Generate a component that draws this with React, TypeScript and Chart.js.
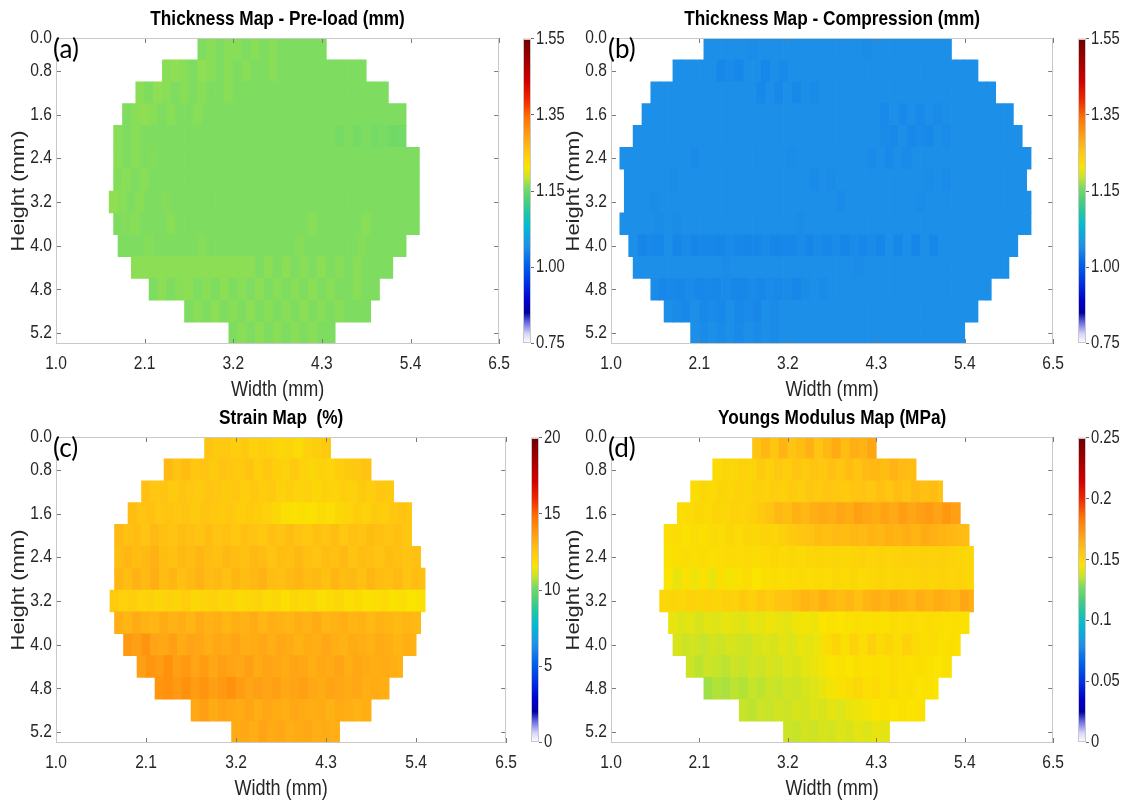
import React, { useEffect, useRef } from 'react';
import { Chart, registerables } from 'chart.js';
Chart.register(...registerables);

// ---------------- axis data ----------------
const xTickPos = [0, 20, 40, 60, 80, 100];
const xTickLabels = ['1.0', '2.1', '3.2', '4.3', '5.4', '6.5'];
const yTickPos = [0, 1.5, 3.5, 5.5, 7.5, 9.5, 11.5, 13.5];
const yTickLabels = ['0.0', '0.8', '1.6', '2.4', '3.2', '4.0', '4.8', '5.2'];
const nRows = 14;
const nCols = 100;
const cellCols = 2;

// colour bar tick values / labels
const thickCbVals = [0.75, 1.0, 1.15, 1.35, 1.55];
const thickCbLabels = ['0.75', '1.00', '1.15', '1.35', '1.55'];
const strainCbVals = [0, 5, 10, 15, 20];
const strainCbLabels = ['0', '5', '10', '15', '20'];
const modCbVals = [0, 0.05, 0.1, 0.15, 0.2, 0.25];
const modCbLabels = ['0', '0.05', '0.1', '0.15', '0.2', '0.25'];

// colormap (jet-like, fading to white at the bottom)
const cmapPos = [0, 0.03, 0.07, 0.1, 0.14, 0.2, 0.26, 0.32, 0.38, 0.43, 0.47, 0.51, 0.545, 0.58, 0.63, 0.68, 0.74, 0.8, 0.86, 0.93, 1];
const cmapRGB = [
  [255, 255, 255], [215, 215, 250], [100, 100, 225], [0, 0, 160], [0, 0, 205], [0, 50, 230],
  [0, 100, 235], [30, 145, 232], [0, 185, 215], [30, 200, 165], [75, 208, 120], [120, 220, 100],
  [200, 228, 40], [250, 228, 0], [255, 196, 18], [255, 160, 20], [255, 115, 0], [240, 40, 0],
  [210, 0, 0], [160, 0, 0], [110, 0, 0],
];

// ---------------- grid data (row extents in column index) ----------------
const preStart = [32, 24, 18, 15, 13, 13, 13, 12, 13, 14, 17, 21, 29, 39];
const preEnd = [61, 70, 75, 79, 79, 82, 82, 82, 82, 79, 76, 73, 71, 63];
const compStart = [21, 14, 9, 7, 5, 2, 3, 3, 2, 4, 5, 9, 12, 18];
const compEnd = [77, 83, 87, 91, 93, 95, 94, 95, 95, 92, 90, 86, 83, 80];
const strainStart = [33, 24, 19, 16, 13, 13, 13, 12, 13, 15, 18, 22, 30, 39];
const strainEnd = [61, 70, 75, 79, 79, 81, 82, 82, 81, 80, 77, 74, 70, 63];
const modStart = [32, 23, 18, 15, 12, 12, 12, 11, 13, 14, 17, 21, 29, 39];
const modEnd = [60, 69, 75, 79, 81, 82, 82, 82, 81, 79, 77, 74, 71, 63];

// thickness pre-load (mm)
const thickPreRows = [
  [1.16, 1.164, 1.16, 1.164, 1.164, 1.16, 1.164, 1.16, 1.164, 1.16, 1.16, 1.16, 1.16, 1.16, 1.16],
  [1.164, 1.166, 1.164, 1.16, 1.166, 1.164, 1.16, 1.164, 1.16, 1.164, 1.16, 1.16, 1.164, 1.16, 1.16, 1.16, 1.16, 1.16, 1.16, 1.16, 1.16, 1.16, 1.16],
  [1.164, 1.16, 1.166, 1.164, 1.16, 1.164, 1.16, 1.164, 1.16, 1.16, 1.164, 1.16, 1.16, 1.16, 1.16, 1.16, 1.16, 1.16, 1.16, 1.16, 1.16, 1.16, 1.16, 1.16, 1.16, 1.16, 1.16, 1.16, 1.16],
  [1.16, 1.164, 1.166, 1.164, 1.16, 1.164, 1.16, 1.16, 1.164, 1.16, 1.16, 1.16, 1.16, 1.16, 1.16, 1.16, 1.16, 1.16, 1.16, 1.16, 1.16, 1.16, 1.16, 1.16, 1.16, 1.16, 1.16, 1.16, 1.16, 1.16, 1.16, 1.16],
  [1.164, 1.16, 1.164, 1.16, 1.16, 1.16, 1.16, 1.16, 1.16, 1.16, 1.16, 1.16, 1.16, 1.16, 1.16, 1.16, 1.16, 1.16, 1.16, 1.16, 1.16, 1.16, 1.16, 1.16, 1.16, 1.156, 1.16, 1.156, 1.16, 1.156, 1.158, 1.153, 1.154],
  [1.164, 1.16, 1.164, 1.16, 1.162, 1.16, 1.16, 1.16, 1.16, 1.16, 1.16, 1.16, 1.16, 1.16, 1.16, 1.16, 1.16, 1.16, 1.16, 1.16, 1.16, 1.16, 1.16, 1.16, 1.16, 1.16, 1.16, 1.16, 1.16, 1.16, 1.16, 1.16, 1.16, 1.16, 1.16],
  [1.162, 1.164, 1.16, 1.164, 1.16, 1.16, 1.16, 1.16, 1.16, 1.16, 1.16, 1.16, 1.16, 1.16, 1.16, 1.16, 1.16, 1.16, 1.16, 1.16, 1.16, 1.16, 1.16, 1.16, 1.16, 1.16, 1.16, 1.16, 1.16, 1.16, 1.16, 1.16, 1.16, 1.16, 1.16],
  [1.166, 1.164, 1.16, 1.164, 1.16, 1.16, 1.162, 1.16, 1.16, 1.16, 1.16, 1.16, 1.16, 1.16, 1.16, 1.16, 1.16, 1.16, 1.16, 1.16, 1.16, 1.16, 1.16, 1.16, 1.16, 1.16, 1.16, 1.16, 1.16, 1.16, 1.16, 1.16, 1.16, 1.16, 1.16],
  [1.16, 1.162, 1.164, 1.16, 1.16, 1.16, 1.164, 1.16, 1.16, 1.16, 1.16, 1.16, 1.16, 1.16, 1.16, 1.16, 1.16, 1.16, 1.16, 1.16, 1.16, 1.16, 1.164, 1.16, 1.16, 1.16, 1.16, 1.16, 1.164, 1.16, 1.16, 1.16, 1.16, 1.16, 1.16],
  [1.16, 1.16, 1.16, 1.163, 1.16, 1.16, 1.16, 1.16, 1.16, 1.163, 1.16, 1.16, 1.16, 1.16, 1.16, 1.16, 1.16, 1.16, 1.16, 1.16, 1.163, 1.16, 1.16, 1.16, 1.16, 1.16, 1.16, 1.163, 1.16, 1.16, 1.16, 1.16, 1.16],
  [1.165, 1.165, 1.165, 1.165, 1.165, 1.165, 1.165, 1.165, 1.165, 1.165, 1.165, 1.165, 1.165, 1.165, 1.16, 1.165, 1.16, 1.165, 1.16, 1.164, 1.16, 1.165, 1.16, 1.164, 1.16, 1.164, 1.16, 1.16, 1.16, 1.16],
  [1.16, 1.165, 1.16, 1.164, 1.165, 1.16, 1.164, 1.16, 1.165, 1.16, 1.164, 1.16, 1.165, 1.16, 1.164, 1.16, 1.164, 1.16, 1.165, 1.16, 1.164, 1.16, 1.16, 1.164, 1.16, 1.16],
  [1.16, 1.164, 1.16, 1.165, 1.16, 1.164, 1.16, 1.165, 1.16, 1.164, 1.16, 1.164, 1.16, 1.165, 1.16, 1.164, 1.16, 1.164, 1.16, 1.16, 1.16],
  [1.16, 1.164, 1.16, 1.165, 1.16, 1.164, 1.16, 1.164, 1.16, 1.164, 1.16, 1.16],
];

// thickness under compression (mm)
const thickCompRows = [
  [1.04, 1.04, 1.04, 1.04, 1.04, 1.038, 1.04, 1.04, 1.04, 1.04, 1.04, 1.04, 1.04, 1.04, 1.04, 1.04, 1.04, 1.04, 1.038, 1.04, 1.04, 1.04, 1.04, 1.04, 1.04, 1.04, 1.04, 1.04],
  [1.04, 1.04, 1.04, 1.04, 1.04, 1.034, 1.037, 1.034, 1.04, 1.04, 1.034, 1.04, 1.036, 1.04, 1.04, 1.04, 1.04, 1.04, 1.04, 1.04, 1.04, 1.04, 1.04, 1.04, 1.04, 1.04, 1.04, 1.04, 1.04, 1.04, 1.04, 1.04, 1.04, 1.04, 1.04],
  [1.04, 1.04, 1.04, 1.04, 1.04, 1.04, 1.04, 1.04, 1.04, 1.04, 1.04, 1.04, 1.035, 1.04, 1.035, 1.04, 1.035, 1.04, 1.037, 1.04, 1.04, 1.04, 1.04, 1.04, 1.04, 1.04, 1.04, 1.04, 1.04, 1.04, 1.04, 1.04, 1.04, 1.04, 1.04, 1.04, 1.04, 1.04, 1.04],
  [1.04, 1.04, 1.04, 1.04, 1.04, 1.04, 1.04, 1.04, 1.04, 1.04, 1.04, 1.04, 1.04, 1.04, 1.04, 1.04, 1.04, 1.04, 1.04, 1.04, 1.04, 1.04, 1.04, 1.04, 1.04, 1.04, 1.04, 1.036, 1.04, 1.036, 1.04, 1.036, 1.04, 1.037, 1.04, 1.04, 1.04, 1.04, 1.04, 1.04, 1.04, 1.04],
  [1.04, 1.04, 1.04, 1.04, 1.04, 1.04, 1.04, 1.04, 1.04, 1.04, 1.04, 1.04, 1.04, 1.04, 1.04, 1.04, 1.04, 1.04, 1.04, 1.04, 1.04, 1.04, 1.04, 1.04, 1.04, 1.04, 1.04, 1.04, 1.037, 1.035, 1.04, 1.035, 1.037, 1.035, 1.04, 1.037, 1.04, 1.04, 1.04, 1.04, 1.04, 1.04, 1.04, 1.04],
  [1.04, 1.04, 1.04, 1.04, 1.04, 1.04, 1.04, 1.04, 1.037, 1.04, 1.04, 1.04, 1.04, 1.04, 1.04, 1.04, 1.04, 1.04, 1.04, 1.038, 1.04, 1.04, 1.04, 1.04, 1.04, 1.04, 1.04, 1.04, 1.037, 1.04, 1.036, 1.04, 1.037, 1.04, 1.04, 1.04, 1.04, 1.04, 1.04, 1.04, 1.04, 1.04, 1.04, 1.04, 1.04, 1.04, 1.04],
  [1.04, 1.04, 1.04, 1.04, 1.04, 1.038, 1.04, 1.04, 1.04, 1.04, 1.04, 1.04, 1.04, 1.04, 1.04, 1.04, 1.04, 1.04, 1.04, 1.04, 1.04, 1.037, 1.04, 1.038, 1.04, 1.04, 1.04, 1.04, 1.04, 1.04, 1.04, 1.04, 1.04, 1.04, 1.038, 1.04, 1.037, 1.04, 1.04, 1.04, 1.04, 1.04, 1.04, 1.04, 1.04, 1.04],
  [1.04, 1.04, 1.04, 1.038, 1.04, 1.04, 1.04, 1.04, 1.04, 1.04, 1.04, 1.04, 1.04, 1.04, 1.04, 1.04, 1.04, 1.04, 1.04, 1.04, 1.04, 1.04, 1.04, 1.04, 1.037, 1.04, 1.04, 1.04, 1.04, 1.04, 1.04, 1.04, 1.04, 1.038, 1.04, 1.04, 1.04, 1.04, 1.04, 1.04, 1.04, 1.04, 1.04, 1.04, 1.04, 1.04],
  [1.04, 1.04, 1.04, 1.04, 1.038, 1.04, 1.038, 1.04, 1.04, 1.04, 1.04, 1.04, 1.04, 1.04, 1.04, 1.04, 1.04, 1.04, 1.04, 1.04, 1.038, 1.04, 1.04, 1.04, 1.04, 1.04, 1.04, 1.04, 1.04, 1.04, 1.04, 1.04, 1.04, 1.04, 1.04, 1.04, 1.04, 1.04, 1.04, 1.04, 1.04, 1.04, 1.04, 1.04, 1.04, 1.04, 1.04],
  [1.04, 1.033, 1.035, 1.034, 1.04, 1.033, 1.037, 1.033, 1.034, 1.034, 1.033, 1.037, 1.034, 1.033, 1.034, 1.037, 1.033, 1.034, 1.034, 1.037, 1.033, 1.037, 1.034, 1.037, 1.033, 1.037, 1.034, 1.037, 1.033, 1.04, 1.034, 1.04, 1.033, 1.04, 1.034, 1.04, 1.04, 1.04, 1.04, 1.04, 1.04, 1.04, 1.04, 1.04],
  [1.04, 1.04, 1.04, 1.04, 1.04, 1.04, 1.04, 1.04, 1.04, 1.04, 1.038, 1.04, 1.04, 1.04, 1.04, 1.04, 1.04, 1.04, 1.04, 1.04, 1.04, 1.04, 1.04, 1.04, 1.04, 1.038, 1.04, 1.04, 1.04, 1.04, 1.04, 1.04, 1.04, 1.04, 1.04, 1.04, 1.04, 1.04, 1.04, 1.04, 1.04, 1.04, 1.04],
  [1.037, 1.034, 1.035, 1.034, 1.037, 1.034, 1.035, 1.034, 1.037, 1.034, 1.034, 1.037, 1.034, 1.037, 1.035, 1.037, 1.034, 1.038, 1.04, 1.037, 1.04, 1.04, 1.04, 1.04, 1.04, 1.04, 1.04, 1.04, 1.04, 1.04, 1.04, 1.04, 1.04, 1.04, 1.04, 1.04, 1.04, 1.04, 1.04],
  [1.04, 1.037, 1.035, 1.04, 1.035, 1.037, 1.035, 1.04, 1.035, 1.037, 1.034, 1.04, 1.037, 1.04, 1.04, 1.04, 1.04, 1.04, 1.04, 1.04, 1.04, 1.04, 1.04, 1.04, 1.04, 1.04, 1.04, 1.04, 1.04, 1.04, 1.04, 1.04, 1.04, 1.04, 1.04, 1.04],
  [1.04, 1.037, 1.04, 1.037, 1.04, 1.036, 1.04, 1.037, 1.04, 1.037, 1.04, 1.04, 1.04, 1.04, 1.04, 1.04, 1.04, 1.04, 1.04, 1.04, 1.04, 1.04, 1.04, 1.04, 1.04, 1.04, 1.04, 1.04, 1.04, 1.04, 1.04],
];

// strain (%)
const strainRows = [
  [12.6, 12.4, 12.5, 12.3, 12.4, 12.2, 12.3, 12.2, 12.0, 12.1, 11.9, 12.2, 12.3, 12.4],
  [12.9, 12.6, 12.8, 12.5, 12.6, 12.4, 12.6, 12.5, 12.4, 12.6, 12.3, 12.5, 12.3, 12.2, 12.4, 12.2, 12.0, 12.2, 12.1, 12.3, 12.4, 12.5, 12.6],
  [12.7, 12.5, 12.6, 12.4, 12.6, 12.5, 12.4, 12.6, 12.5, 12.4, 12.5, 12.3, 12.5, 12.3, 12.4, 12.2, 12.3, 12.1, 12.2, 12.0, 12.2, 12.1, 12.3, 12.2, 12.4, 12.3, 12.5, 12.4],
  [12.8, 12.6, 12.7, 12.5, 12.6, 12.5, 12.6, 12.4, 12.6, 12.5, 12.4, 12.5, 12.3, 12.4, 12.3, 12.2, 12.0, 11.8, 11.7, 11.8, 11.7, 11.9, 11.8, 12.0, 12.1, 12.3, 12.2, 12.4, 12.3, 12.5, 12.6, 12.5],
  [12.9, 12.7, 12.8, 12.6, 12.9, 12.7, 12.6, 12.8, 12.7, 12.6, 12.8, 12.6, 12.7, 12.5, 12.7, 12.6, 12.5, 12.7, 12.6, 12.8, 12.6, 12.5, 12.7, 12.6, 12.8, 12.5, 12.7, 12.6, 12.8, 12.7, 12.6, 12.7, 12.5],
  [12.8, 13.0, 12.8, 12.9, 13.1, 12.8, 12.7, 12.9, 12.8, 13.0, 12.8, 12.7, 12.9, 12.8, 12.7, 12.9, 12.8, 12.6, 12.8, 12.7, 12.9, 12.7, 12.6, 12.8, 12.7, 12.9, 12.6, 12.8, 12.7, 12.6, 12.8, 12.7, 12.6, 12.7],
  [13.0, 12.8, 13.1, 12.9, 13.2, 12.8, 13.0, 12.7, 12.9, 13.1, 12.8, 12.9, 12.7, 13.0, 12.8, 12.9, 13.1, 12.8, 12.7, 12.9, 13.0, 12.8, 12.9, 12.7, 13.0, 12.8, 12.9, 12.7, 13.0, 12.8, 12.7, 12.9, 12.6, 12.8, 12.7],
  [12.4, 12.2, 12.3, 12.1, 12.2, 12.0, 12.2, 12.1, 12.3, 12.0, 12.1, 12.2, 12.0, 12.1, 11.9, 12.0, 12.1, 11.9, 12.0, 11.8, 12.0, 11.9, 12.0, 11.8, 11.9, 12.0, 11.8, 11.9, 11.7, 11.8, 11.9, 11.7, 11.8, 11.6, 11.7],
  [13.2, 13.0, 13.3, 13.1, 13.0, 13.3, 13.1, 13.2, 13.0, 13.3, 13.1, 13.2, 13.0, 13.2, 13.1, 13.3, 13.0, 13.2, 13.1, 13.0, 13.2, 13.1, 13.3, 13.0, 13.1, 13.2, 13.0, 13.1, 12.9, 13.1, 13.0, 12.9, 13.0, 12.9],
  [13.8, 13.6, 13.9, 13.5, 13.4, 13.6, 13.3, 13.5, 13.4, 13.2, 13.4, 13.3, 13.5, 13.2, 13.3, 13.4, 13.2, 13.4, 13.3, 13.1, 13.3, 13.2, 13.4, 13.2, 13.1, 13.3, 13.2, 13.1, 13.3, 13.2, 13.0, 13.2, 13.1],
  [13.6, 13.9, 13.7, 14.0, 13.6, 13.8, 13.5, 13.7, 13.4, 13.6, 13.5, 13.4, 13.6, 13.3, 13.5, 13.4, 13.3, 13.5, 13.4, 13.2, 13.4, 13.3, 13.5, 13.2, 13.4, 13.3, 13.2, 13.3, 13.2, 13.1],
  [13.9, 14.0, 13.8, 14.0, 13.7, 13.9, 13.6, 13.8, 14.0, 13.7, 13.5, 13.6, 13.5, 13.6, 13.4, 13.5, 13.6, 13.4, 13.3, 13.5, 13.4, 13.3, 13.4, 13.2, 13.3, 13.2],
  [13.4, 13.6, 13.3, 13.5, 13.4, 13.3, 13.5, 13.2, 13.4, 13.3, 13.2, 13.4, 13.3, 13.2, 13.3, 13.1, 13.3, 13.2, 13.1, 13.2],
  [13.3, 13.4, 13.2, 13.5, 13.3, 13.4, 13.2, 13.3, 13.4, 13.2, 13.3, 13.2],
];

// Young's modulus (MPa)
const modulusRows = [
  [0.158, 0.162, 0.157, 0.163, 0.158, 0.16, 0.164, 0.158, 0.162, 0.166, 0.16, 0.165, 0.163, 0.168],
  [0.149, 0.151, 0.15, 0.152, 0.151, 0.155, 0.153, 0.156, 0.154, 0.157, 0.155, 0.158, 0.156, 0.159, 0.157, 0.16, 0.158, 0.161, 0.162, 0.16, 0.163, 0.161, 0.16],
  [0.148, 0.15, 0.149, 0.151, 0.15, 0.152, 0.151, 0.153, 0.152, 0.154, 0.153, 0.155, 0.154, 0.156, 0.155, 0.157, 0.156, 0.155, 0.157, 0.158, 0.156, 0.159, 0.157, 0.16, 0.158, 0.161, 0.159, 0.16, 0.158],
  [0.148, 0.149, 0.15, 0.149, 0.151, 0.15, 0.152, 0.151, 0.153, 0.155, 0.158, 0.162, 0.16, 0.164, 0.162, 0.165, 0.167, 0.165, 0.168, 0.166, 0.17, 0.168, 0.166, 0.169, 0.167, 0.171, 0.168, 0.17, 0.172, 0.169, 0.173, 0.17],
  [0.147, 0.148, 0.146, 0.148, 0.147, 0.149, 0.148, 0.15, 0.149, 0.151, 0.15, 0.152, 0.151, 0.153, 0.155, 0.157, 0.158, 0.16, 0.159, 0.161, 0.16, 0.162, 0.161, 0.163, 0.162, 0.164, 0.163, 0.165, 0.163, 0.166, 0.164, 0.163, 0.162, 0.161, 0.16],
  [0.146, 0.147, 0.148, 0.147, 0.148, 0.147, 0.148, 0.149, 0.148, 0.149, 0.148, 0.149, 0.15, 0.149, 0.15, 0.149, 0.15, 0.151, 0.15, 0.151, 0.15, 0.151, 0.152, 0.151, 0.152, 0.151, 0.152, 0.153, 0.152, 0.153, 0.152, 0.153, 0.152, 0.151, 0.15],
  [0.145, 0.142, 0.146, 0.143, 0.146, 0.142, 0.147, 0.144, 0.146, 0.148, 0.145, 0.147, 0.148, 0.147, 0.148, 0.149, 0.148, 0.149, 0.148, 0.15, 0.149, 0.15, 0.149, 0.15, 0.151, 0.15, 0.151, 0.15, 0.151, 0.152, 0.151, 0.152, 0.151, 0.152, 0.15],
  [0.15, 0.151, 0.15, 0.152, 0.151, 0.152, 0.151, 0.153, 0.152, 0.155, 0.153, 0.156, 0.154, 0.157, 0.158, 0.16, 0.163, 0.161, 0.164, 0.162, 0.16, 0.162, 0.159, 0.163, 0.165, 0.163, 0.166, 0.164, 0.162, 0.165, 0.163, 0.166, 0.164, 0.162, 0.168, 0.165],
  [0.142, 0.14, 0.141, 0.139, 0.141, 0.14, 0.142, 0.141, 0.14, 0.142, 0.141, 0.143, 0.142, 0.141, 0.143, 0.144, 0.143, 0.145, 0.146, 0.145, 0.146, 0.147, 0.146, 0.147, 0.146, 0.148, 0.147, 0.148, 0.147, 0.148, 0.147, 0.146, 0.147, 0.146],
  [0.139, 0.137, 0.138, 0.136, 0.138, 0.137, 0.139, 0.138, 0.137, 0.139, 0.14, 0.139, 0.141, 0.14, 0.142, 0.141, 0.143, 0.148, 0.151, 0.147, 0.152, 0.148, 0.153, 0.149, 0.151, 0.148, 0.152, 0.149, 0.147, 0.148, 0.146, 0.147, 0.146],
  [0.137, 0.135, 0.137, 0.136, 0.135, 0.137, 0.136, 0.138, 0.137, 0.139, 0.138, 0.14, 0.139, 0.141, 0.142, 0.144, 0.145, 0.146, 0.145, 0.147, 0.146, 0.147, 0.146, 0.148, 0.147, 0.146, 0.147, 0.146, 0.145, 0.146],
  [0.132, 0.134, 0.133, 0.135, 0.134, 0.136, 0.135, 0.137, 0.136, 0.138, 0.137, 0.139, 0.14, 0.142, 0.144, 0.146, 0.148, 0.15, 0.147, 0.149, 0.146, 0.148, 0.146, 0.147, 0.145, 0.146, 0.145],
  [0.136, 0.135, 0.137, 0.136, 0.138, 0.137, 0.139, 0.138, 0.14, 0.139, 0.141, 0.14, 0.142, 0.143, 0.144, 0.145, 0.146, 0.145, 0.146, 0.145, 0.146],
  [0.137, 0.136, 0.138, 0.137, 0.139, 0.138, 0.14, 0.139, 0.141, 0.14, 0.142, 0.141],
];

// ---------------- layout / style ----------------
const FONT = "'Liberation Sans', Arial, Helvetica, sans-serif";
const SQUEEZE = 0.82; // the reference figure is horizontally condensed
const TEXT = '#262626';
const YW = 56; // y-axis box width
const XH = 62; // x-axis box height
const TH = 38; // space above the plot for the title
const RP = 14; // right padding of heat canvas
const FS = { title: 21, tick: 19, axis: 22, cb: 18 };

const panels = [
  { key: 'a', title: 'Thickness Map - Pre-load (mm)', letter: '(a)', rows: thickPreRows, starts: preStart, ends: preEnd,
    cbVals: thickCbVals, cbLabels: thickCbLabels, plot: { l: 56, t: 38, r: 507, b: 344 }, cbL: 523 },
  { key: 'b', title: 'Thickness Map - Compression (mm)', letter: '(b)', rows: thickCompRows, starts: compStart, ends: compEnd,
    cbVals: thickCbVals, cbLabels: thickCbLabels, plot: { l: 611, t: 38, r: 1061, b: 344 }, cbL: 1078 },
  { key: 'c', title: 'Strain Map  (%)', letter: '(c)', rows: strainRows, starts: strainStart, ends: strainEnd,
    cbVals: strainCbVals, cbLabels: strainCbLabels, plot: { l: 56, t: 437, r: 514, b: 743 }, cbL: 531 },
  { key: 'd', title: 'Youngs Modulus Map (MPa)', letter: '(d)', rows: modulusRows, starts: modStart, ends: modEnd,
    cbVals: modCbVals, cbLabels: modCbLabels, plot: { l: 611, t: 437, r: 1061, b: 743 }, cbL: 1078 },
];

// ---------------- helpers ----------------
// the whole reference figure is squeezed horizontally: draw every chart text the same way
function condenseText(canvas: HTMLCanvasElement, k: number) {
  const ctx = canvas.getContext('2d') as any;
  if (ctx.__condensed) return;
  const orig = ctx.fillText;
  ctx.fillText = function (text: string, x: number, y: number) {
    const m = this.getTransform();
    const rotated = Math.abs(m.b) > 0.5;
    this.save();
    this.translate(x, y);
    if (rotated) this.scale(1, k); else this.scale(k, 1);
    orig.call(this, text, 0, 0);
    this.restore();
  };
  ctx.__condensed = true;
}

function cmapColor(f: number): string {
  const t = Math.max(0, Math.min(1, f));
  let i = 0;
  while (i < cmapPos.length - 2 && t > cmapPos[i + 1]) i++;
  const u = (t - cmapPos[i]) / (cmapPos[i + 1] - cmapPos[i]);
  const a = cmapRGB[i], b = cmapRGB[i + 1];
  const c = a.map((v, k) => Math.round(v + (b[k] - v) * u));
  return `rgb(${c[0]},${c[1]},${c[2]})`;
}

function valueToFrac(v: number, ticks: number[]): number {
  const n = ticks.length;
  if (v <= ticks[0]) return 0;
  for (let i = 0; i < n - 1; i++) {
    if (v <= ticks[i + 1]) return (i + (v - ticks[i]) / (ticks[i + 1] - ticks[i])) / (n - 1);
  }
  return 1;
}

const framePlugin = {
  id: 'frame',
  afterDatasetsDraw(chart: any, _args: any, opts: any) {
    const { ctx, chartArea: a, scales } = chart;
    ctx.save();
    ctx.lineWidth = 1;
    if (opts.ticks) {
      const L = 5;
      ctx.strokeStyle = opts.tickColor;
      ctx.beginPath();
      scales.x.ticks.forEach((t: any) => {
        const x = Math.round(scales.x.getPixelForValue(t.value)) + 0.5;
        ctx.moveTo(x, a.top); ctx.lineTo(x, a.top + L);
        ctx.moveTo(x, a.bottom); ctx.lineTo(x, a.bottom - L);
      });
      scales.y.ticks.forEach((t: any) => {
        const y = Math.round(scales.y.getPixelForValue(t.value)) + 0.5;
        ctx.moveTo(a.left, y); ctx.lineTo(a.left + L, y);
        ctx.moveTo(a.right, y); ctx.lineTo(a.right - L, y);
      });
      ctx.stroke();
    }
    ctx.strokeStyle = opts.color;
    ctx.strokeRect(Math.round(a.left) + 0.5, Math.round(a.top) + 0.5, Math.round(a.right - a.left) - 1, Math.round(a.bottom - a.top) - 1);
    ctx.restore();
  },
};

function HeatPanel({ p }: any) {
  const ref = useRef<HTMLCanvasElement>(null);
  const w = p.plot.r - p.plot.l + YW + RP;
  const h = p.plot.b - p.plot.t + TH + XH;
  const left = p.plot.l - YW;
  const top = p.plot.t - TH;
  useEffect(() => {
    const canvas = ref.current as HTMLCanvasElement;
    condenseText(canvas, SQUEEZE);
    const data: any[] = [];
    const colors: string[] = [];
    p.rows.forEach((vals: number[], r: number) => {
      for (let i = 0; i < vals.length; i++) {
        const x0 = p.starts[r] + i * cellCols;
        if (x0 >= p.ends[r]) break;
        const x1 = Math.min(x0 + cellCols, p.ends[r]);
        data.push({ x: [x0, x1], y: r + 0.5 });
        colors.push(cmapColor(valueToFrac(vals[i], p.cbVals)));
      }
    });
    const titleLH = FS.title * 1.2;
    const titlePadTop = 19 - titleLH / 2;
    const tickLH = FS.tick * 1.2;
    const axisLH = FS.axis * 1.2;
    const chart = new Chart(canvas, {
      type: 'bar',
      data: {
        datasets: [{ data, backgroundColor: colors, borderWidth: 0, barPercentage: 1, categoryPercentage: 1 }],
      },
      options: {
        indexAxis: 'y',
        animation: false,
        responsive: false,
        events: [],
        layout: { padding: { left: 0, top: 0, right: RP, bottom: 0 } },
        scales: {
          x: {
            type: 'linear', min: 0, max: nCols, offset: false, position: 'bottom',
            afterBuildTicks: (s: any) => { s.ticks = xTickPos.map((v) => ({ value: v })); },
            afterFit: (s: any) => { s.height = XH; },
            ticks: { autoSkip: false, maxRotation: 0, minRotation: 0, padding: 20 - tickLH / 2, color: TEXT,
              font: { family: FONT, size: FS.tick, lineHeight: 1.2 },
              callback: (_v: any, i: number) => xTickLabels[i] },
            grid: { display: false, drawTicks: false },
            border: { display: false },
            title: { display: true, text: 'Width (mm)', color: TEXT,
              font: { family: FONT, size: FS.axis, lineHeight: 1.2 },
              padding: { top: 0, bottom: 16 - axisLH / 2 } },
          },
          y: {
            type: 'linear', min: 0, max: nRows, reverse: true, offset: false,
            afterBuildTicks: (s: any) => { s.ticks = yTickPos.map((v) => ({ value: v })); },
            afterFit: (s: any) => { s.width = YW; },
            ticks: { autoSkip: false, padding: 4, color: TEXT,
              font: { family: FONT, size: FS.tick, lineHeight: 1.2 },
              callback: (_v: any, i: number) => yTickLabels[i] },
            grid: { display: false, drawTicks: false },
            border: { display: false },
            title: { display: true, text: 'Height (mm)', color: TEXT,
              font: { family: FONT, size: FS.axis, lineHeight: 1.2 },
              padding: { top: 19 - axisLH / 2, bottom: 0 } },
          },
        },
        plugins: {
          legend: { display: false },
          tooltip: { enabled: false },
          title: {
            display: true, text: p.title, fullSize: false, color: '#000',
            font: { family: FONT, size: FS.title, weight: 'bold', lineHeight: 1.2 },
            padding: { top: titlePadTop, bottom: TH - titleLH - titlePadTop },
          },
          frame: { color: '#c8c8c8', tickColor: '#7a7a7a', ticks: true },
        },
      } as any,
      plugins: [framePlugin],
    });
    return () => chart.destroy();
  }, []);
  return <canvas ref={ref} width={w} height={h} style={{ position: 'absolute', left, top, width: w, height: h }} />;
}

function ColorBar({ p }: any) {
  const ref = useRef<HTMLCanvasElement>(null);
  const barW = 8, axW = 50, pad = 12;
  const w = barW + axW;
  const h = p.plot.b - p.plot.t + 2 * pad;
  useEffect(() => {
    const canvas = ref.current as HTMLCanvasElement;
    condenseText(canvas, SQUEEZE);
    const n = p.cbLabels.length;
    const chart = new Chart(canvas, {
      type: 'bar',
      data: {
        labels: ['cb'],
        datasets: [{
          data: [[0, 1]],
          borderWidth: 0,
          barPercentage: 1,
          categoryPercentage: 1,
          backgroundColor: (ctx: any) => {
            const ch = ctx.chart; const ca = ch.chartArea;
            if (!ca) return 'transparent';
            const g = ch.ctx.createLinearGradient(0, ca.bottom, 0, ca.top);
            cmapPos.forEach((pos, i) => g.addColorStop(pos, `rgb(${cmapRGB[i].join(',')})`));
            return g;
          },
        }],
      },
      options: {
        animation: false,
        responsive: false,
        events: [],
        layout: { padding: { left: 0, right: 0, top: pad, bottom: pad } },
        scales: {
          x: { type: 'category', display: false },
          y: {
            type: 'linear', min: 0, max: 1, position: 'right',
            afterBuildTicks: (s: any) => { s.ticks = p.cbLabels.map((_l: string, i: number) => ({ value: i / (n - 1) })); },
            afterFit: (s: any) => { s.width = axW; },
            ticks: { autoSkip: false, padding: 2, color: TEXT,
              font: { family: FONT, size: FS.cb, lineHeight: 1.2 },
              callback: (_v: any, i: number) => p.cbLabels[i] },
            grid: { display: true, drawOnChartArea: false, drawTicks: true, tickLength: 3, color: '#666' },
            border: { display: false },
          },
        },
        plugins: {
          legend: { display: false },
          tooltip: { enabled: false },
          frame: { color: '#c8c8c8', ticks: false },
        },
      } as any,
      plugins: [framePlugin],
    });
    return () => chart.destroy();
  }, []);
  return <canvas ref={ref} width={w} height={h} style={{ position: 'absolute', left: p.cbL, top: p.plot.t - pad, width: w, height: h }} />;
}

export default function App() {
  return (
    <div style={{ position: 'absolute', left: 0, top: 0, width: 1121, height: 804, background: '#fff', overflow: 'hidden' }}>
      {panels.map((p) => (
        <React.Fragment key={p.key}>
          <HeatPanel p={p} />
          <ColorBar p={p} />
          <div style={{ position: 'absolute', left: p.plot.l - 3, top: p.plot.t - 3, fontFamily: 'Lato, "Open Sans", sans-serif',
            fontSize: 26, lineHeight: '26px', color: '#000' }}>{p.letter}</div>
        </React.Fragment>
      ))}
    </div>
  );
}
